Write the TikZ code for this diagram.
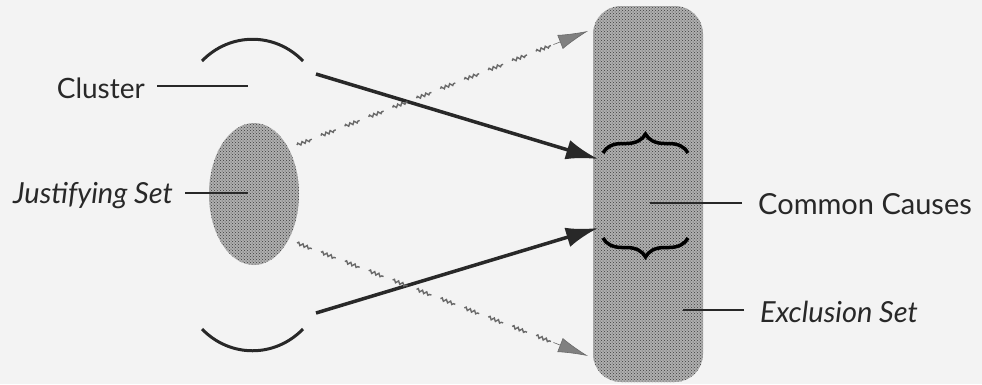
\documentclass[tikz,border=0pt]{standalone}
\usepackage{fontspec}
\setmainfont{Lato}
\usetikzlibrary{arrows.meta,shapes.geometric,decorations.pathmorphing,decorations.pathreplacing,calc,patterns}
\definecolor{bg}{RGB}{243,243,243}
\definecolor{ink}{RGB}{40,40,40}
\definecolor{shade}{RGB}{175,175,175}
\definecolor{dotc}{RGB}{60,60,60}
\definecolor{wave}{RGB}{105,105,105}
\tikzset{
  lbl/.style={text=ink, inner sep=0pt, font=\fontsize{29}{33}\selectfont},
  lead/.style={draw=ink, line width=2pt},
  arcline/.style={draw=ink, line width=3pt},
  solidarrow/.style={draw=ink, line width=3.5pt, -{Latex[length=32pt,width=20pt]}},
  wavyline/.style={draw=wave, line width=1.4pt, decorate, decoration={snake, amplitude=1.4pt, segment length=4.5pt}},
  wavyhead/.style={draw=wave, line width=0.6pt, -{Latex[length=30pt,width=15pt,fill=wave!85]}},
  blob/.style={fill=shade, draw=none},
  dotty/.style={pattern=crosshatch dots, pattern color=dotc, draw=none}
}
\begin{document}
\begin{tikzpicture}[x=1pt,y=-1pt]
\useasboundingbox[fill=bg] (0,0) rectangle (982,384);
% shapes
\node[blob, ellipse, minimum width=90pt, minimum height=142pt, inner sep=0pt] (js) at (254,194) {};
\node[dotty, ellipse, minimum width=90pt, minimum height=142pt, inner sep=0pt] at (js) {};
\node[blob, rectangle, rounded corners=28pt, minimum width=110pt, minimum height=376pt, inner sep=0pt] (ex) at (648,194) {};
\node[dotty, rectangle, rounded corners=28pt, minimum width=110pt, minimum height=376pt, inner sep=0pt] at (ex) {};
% cluster arcs
\coordinate (ta1) at (202,61); \coordinate (ta2) at (303,61);
\coordinate (ba1) at (202,329); \coordinate (ba2) at (303,329);
\draw[arcline] (ta1) .. controls (230,32) and (275,32) .. (ta2);
\draw[arcline] (ba1) .. controls (230,358) and (275,358) .. (ba2);
% braces
\coordinate (b1l) at (603,153); \coordinate (b1r) at (688,153);
\coordinate (b2l) at (603,238); \coordinate (b2r) at (688,238);
\draw[draw=black, line width=3.5pt, decorate, decoration={brace, amplitude=19pt}] (b1l) -- (b1r);
\draw[draw=black, line width=3.5pt, decorate, decoration={brace, amplitude=19pt}] (b2r) -- (b2l);
% solid arrows
\coordinate (s1) at (316,74); \coordinate (e1) at (598,159);
\coordinate (s2) at (316,313); \coordinate (e2) at (598,228);
\draw[solidarrow] (s1) -- (e1);
\draw[solidarrow] (s2) -- (e2);
% wavy arrows (dashed wavy lines)
\coordinate (w1s) at (297,145); \coordinate (w1m) at (560,42); \coordinate (w1e) at (588,31);
\coordinate (w2s) at (297,243); \coordinate (w2m) at (560,345); \coordinate (w2e) at (588,356);
\foreach \i in {0,...,10}{
  \pgfmathsetmacro{\a}{\i/11}
  \pgfmathsetmacro{\b}{(\i+0.62)/11}
  \draw[wavyline] ($(w1s)!\a!(w1m)$) -- ($(w1s)!\b!(w1m)$);
  \draw[wavyline] ($(w2s)!\a!(w2m)$) -- ($(w2s)!\b!(w2m)$);
}
\draw[wavyhead] ($(w1s)!0.975!(w1m)$) -- (w1e);
\draw[wavyhead] ($(w2s)!0.975!(w2m)$) -- (w2e);
% labels
\node[lbl, anchor=east] (cl) at (145,88) {\fontsize{28}{32}\selectfont Cluster};
\node[lbl, anchor=east] (jl) at (173,196) {\itshape Justifying Set};
\node[lbl, anchor=west] (cc) at (758,204) {Common Causes};
\node[lbl, anchor=west] (el) at (760,312) {\itshape Exclusion Set};
\coordinate (clp) at (248,86);
\coordinate (jlp) at (248,193);
\coordinate (ccp) at (650,203);
\coordinate (elp) at (683,310);
\draw[lead] ([xshift=12pt]cl.east |- clp) -- (clp);
\draw[lead] ([xshift=12pt]jl.east |- jlp) -- (jlp);
\draw[lead] ([xshift=-16pt]cc.west |- ccp) -- (ccp);
\draw[lead] ([xshift=-16pt]el.west |- elp) -- (elp);
\end{tikzpicture}
\end{document}
